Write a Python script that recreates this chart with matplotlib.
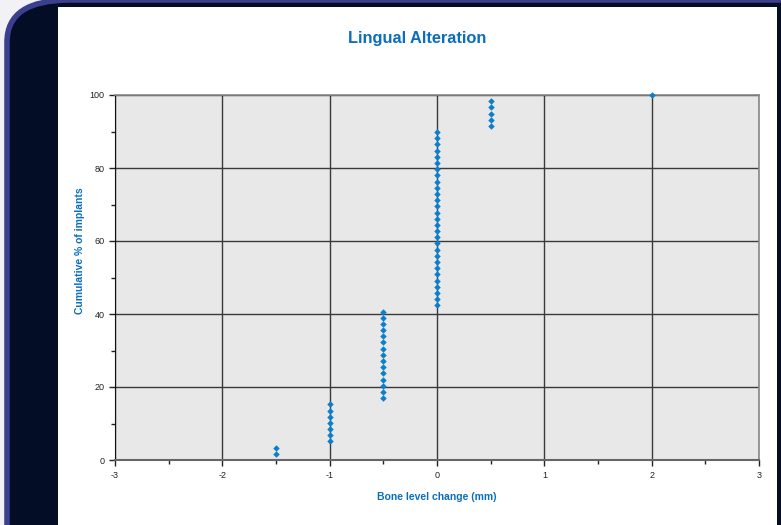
import matplotlib
matplotlib.use('Agg')
import matplotlib.pyplot as plt
from matplotlib.patches import FancyBboxPatch, Rectangle
from matplotlib.ticker import MultipleLocator

# bone level change (mm) and number of implants at each value
bone_change = [-1.5, -1.0, -0.5, 0.0, 0.5, 2.0]
n_implants = [2, 7, 15, 29, 5, 1]

x_ticks = [-3, -2, -1, 0, 1, 2, 3]
y_ticks = [0, 20, 40, 60, 80, 100]

total = sum(n_implants)
xs, ys = [], []
count = 0
for x, n in zip(bone_change, n_implants):
    for _ in range(n):
        count += 1
        xs.append(x)
        ys.append(count / total * 100)

plt.rcParams['font.family'] = ['Liberation Sans', 'DejaVu Sans']
plt.rcParams['axes.unicode_minus'] = False

fig = plt.figure(figsize=(7.81, 5.25), dpi=100)
fig.patch.set_facecolor('#f2f2f6')

# slide frame behind the chart
W, H = 781, 525
frame = FancyBboxPatch((7 / W, -0.2), 1.2, 1.2, boxstyle='round,pad=0,rounding_size=0.08',
                       transform=fig.transFigure, facecolor='#040d26', edgecolor='#3c3f8c',
                       linewidth=4, zorder=0)
fig.patches.append(frame)
panel = Rectangle((58 / W, 0), (777 - 58) / W, (525 - 7) / H, transform=fig.transFigure,
                  facecolor='white', edgecolor='none', zorder=1)
fig.patches.append(panel)

ax = fig.add_axes([115 / W, 1 - 460 / H, (759 - 115) / W, (460 - 95) / H])
ax.set_zorder(2)
ax.set_facecolor('#e8e8e8')

ax.scatter(xs, ys, marker='D', s=11, color='#0a7fcc', linewidths=0, zorder=3, clip_on=False)

ax.set_xlim(-3, 3)
ax.set_ylim(0, 100)
ax.set_xticks(x_ticks)
ax.set_yticks(y_ticks)
ax.xaxis.set_minor_locator(MultipleLocator(0.5))
ax.yaxis.set_minor_locator(MultipleLocator(10))
ax.grid(True, which='major', color='#3a3a3a', linewidth=1.0)
ax.set_axisbelow(True)
ax.tick_params(which='both', direction='out', labelsize=6.5, colors='#222222', width=1)
ax.tick_params(which='major', length=4)
ax.tick_params(which='minor', length=3)
ax.tick_params(axis='x', pad=4)

for side in ['top', 'right']:
    ax.spines[side].set_color('#888888')
    ax.spines[side].set_linewidth(1.2)
ax.spines['left'].set_color('#111111')
ax.spines['bottom'].set_color('#666666')
ax.spines['bottom'].set_linewidth(1.5)

blue = '#0a6ebd'
fig.text(417 / W, 1 - 38 / H, 'Lingual Alteration', color=blue, fontsize=11.8,
         fontweight='bold', ha='center', va='center', zorder=3)
ax.set_xlabel('Bone level change (mm)', color=blue, fontsize=7.5, fontweight='bold')
ax.xaxis.set_label_coords(0.5, -(497 - 460) / 365, transform=ax.transAxes)
ax.xaxis.label.set_va('center')
ax.set_ylabel('Cumulative % of implants', color=blue, fontsize=7.5, fontweight='bold')
ax.yaxis.set_label_coords(-(115 - 80) / 644, (460 - 251) / 365, transform=ax.transAxes)
ax.yaxis.label.set_va('center')

fig.savefig('out.png', dpi=100, facecolor=fig.get_facecolor())
